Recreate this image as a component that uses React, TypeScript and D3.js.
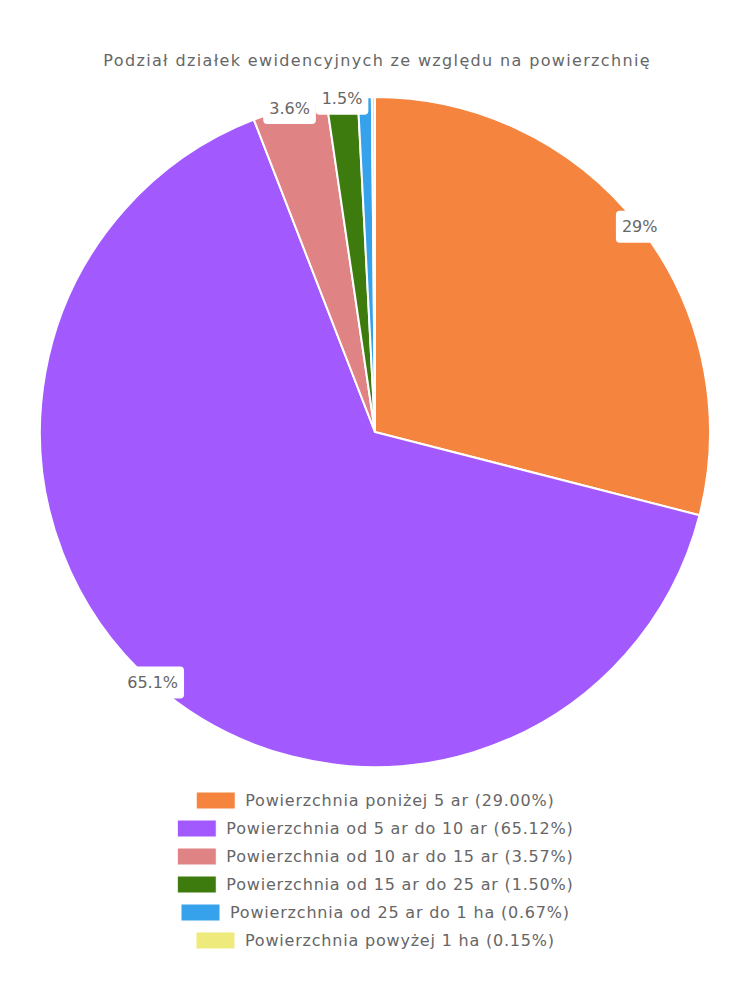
import React, { useMemo } from "react";
import * as d3 from "d3";

const title = "Podział działek ewidencyjnych ze względu na powierzchnię";
const categories = [
  "Powierzchnia poniżej 5 ar",
  "Powierzchnia od 5 ar do 10 ar",
  "Powierzchnia od 10 ar do 15 ar",
  "Powierzchnia od 15 ar do 25 ar",
  "Powierzchnia od 25 ar do 1 ha",
  "Powierzchnia powyżej 1 ha",
];
const values = [29.0, 65.12, 3.57, 1.5, 0.67, 0.15];
const colors = ["#f5843f", "#a25aff", "#e08385", "#3e7b0f", "#36a2eb", "#efea7c"];

const W = 750;
const H = 1000;
const FONT = "'DejaVu Sans', sans-serif";
const TXT = "#666666";

function measure(text: string, size: number, ls = 0) {
  const c = document.createElement("canvas");
  const ctx = c.getContext("2d")!;
  ctx.font = `${size}px ${FONT}`;
  return ctx.measureText(text).width + ls * text.length;
}

export default function App() {
  const cx = 375;
  const cy = 432;
  const R = 335;
  const pie = useMemo(
    () => d3.pie<number>().sort(null).startAngle(0).endAngle(2 * Math.PI)(values),
    []
  );
  const arc = d3.arc<d3.PieArcDatum<number>>().innerRadius(0).outerRadius(R);
  const labelArc = d3.arc<d3.PieArcDatum<number>>().innerRadius(R).outerRadius(R);
  const total = d3.sum(values);
  const legendSize = 16;
  const labelSize = 16;
  const ls = 0.8;
  const tls = 1.35;

  return (
    <svg width={W} height={H} style={{ display: "block", position: "absolute", left: 0, top: 0 }}>
      <rect width={W} height={H} fill="#ffffff" />
      <text x={376.5 + tls / 2} y={60} textAnchor="middle" dominantBaseline="central" fontFamily={FONT} fontSize={16} letterSpacing={tls} fill={TXT}>
        {title}
      </text>
      <g transform={`translate(${cx},${cy})`}>
        {pie.map((d, i) => (
          <path key={i} d={arc(d)!} fill={colors[i]} stroke="#ffffff" strokeWidth={2} strokeLinejoin="round" />
        ))}
        {pie.map((d, i) => {
          const pct = (d.data / total) * 100;
          if (pct < 1) return null;
          const [lx, ly] = labelArc.centroid(d);
          const label = `${+pct.toFixed(1)}%`;
          const tw = measure(label, labelSize);
          const bw = tw + 12;
          const bh = 32;
          return (
            <g key={"l" + i}>
              <rect x={lx - bw / 2} y={ly - bh / 2} width={bw} height={bh} rx={4} fill="#ffffff" />
              <text x={lx} y={ly} textAnchor="middle" dominantBaseline="central" fontFamily={FONT} fontSize={labelSize} fill={TXT}>
                {label}
              </text>
            </g>
          );
        })}
      </g>
      <g>
        {categories.map((c, i) => {
          const label = `${c} (${values[i].toFixed(2)}%)`;
          const tw = measure(label, legendSize, ls) - ls;
          const rowW = 39 + 10 + tw;
          const x0 = 375 - rowW / 2;
          const y = 800.5 + i * 28;
          return (
            <g key={"g" + i}>
              <rect x={x0} y={y - 8.5} width={39} height={17} fill={colors[i]} stroke="#ffffff" strokeWidth={1} />
              <text x={x0 + 49} y={y} dominantBaseline="central" fontFamily={FONT} fontSize={legendSize} letterSpacing={ls} fill={TXT}>
                {label}
              </text>
            </g>
          );
        })}
      </g>
    </svg>
  );
}
